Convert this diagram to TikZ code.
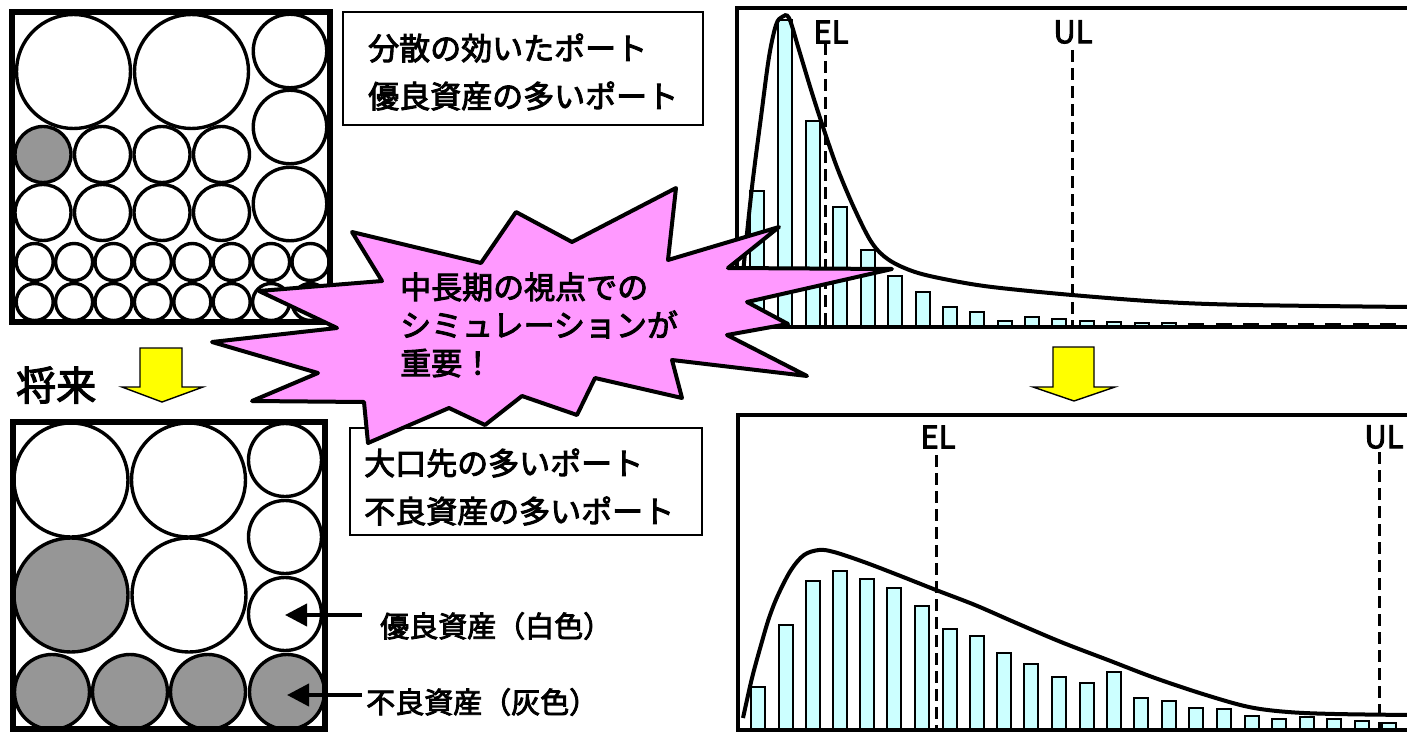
\documentclass[tikz,border=0pt]{standalone}
\usepackage{fontspec}
\setmainfont{Noto Sans CJK JP}[FakeBold=3]
\usepackage{tikz}
\usetikzlibrary{arrows.meta}
\definecolor{burstpink}{RGB}{255,153,255}
\definecolor{barcyan}{RGB}{204,255,255}
\definecolor{badgray}{RGB}{150,150,150}
\definecolor{arrowyellow}{RGB}{255,255,0}

\begin{document}
\begin{tikzpicture}[x=1pt,y=-1pt,
    ball/.style={circle,draw=black,line width=3.4pt,fill=white,inner sep=0pt,minimum size=#1},
    badball/.style={ball=#1,fill=badgray},
    portframe/.style={draw=black,line width=6pt},
    textframe/.style={draw=black,line width=2.2pt},
    histbar/.style={draw=black,line width=2.6pt,fill=barcyan},
    chartframe/.style={draw=black,line width=4pt},
    limitline/.style={line width=3pt,dash pattern=on 12pt off 6pt},
    lossline/.style={line width=4pt},
    blockarrow/.style={draw=black,line width=1.4pt,fill=arrowyellow},
    pointer/.style={line width=4pt,-{Triangle[length=22pt,width=22pt]}},
    burst/.style={draw=black,line width=4pt,fill=burstpink,line join=round},
    jptext/.style={font=\fontsize{31}{48}\selectfont,align=left,inner sep=0pt},
    limtext/.style={font=\fontsize{31}{36}\selectfont,inner sep=0pt}]
    \useasboundingbox (0,0) rectangle (1407,733);

    \foreach \x [count=\i] in {73.5,191.5}
        \node[ball=114pt] (tb\i) at (\x,71.5) {};
    \foreach \y [count=\i] in {51,127,204}
        \node[ball=73.5pt] (tr\i) at (290,\y) {};
    \node[badball=56pt] (tgray) at (43,154.5) {};
    \foreach \x [count=\i] in {102.5,162,221.5}
        \node[ball=56pt] (tm\i) at (\x,154.5) {};
    \foreach \x [count=\i] in {43,102.5,162,221.5}
        \node[ball=56pt] (tn\i) at (\x,212.5) {};
    \foreach \i in {0,...,7} {
        \node[ball=37pt] (ts\i) at (34.7+39.4*\i,262) {};
        \node[ball=37pt] (tt\i) at (34.7+39.4*\i,302) {};
    }
    \draw[portframe] (12,12) rectangle (330,322);

    \node[ball=114pt] (bb1) at (71,480) {};
    \node[ball=114pt] (bb2) at (188.5,480) {};
    \node[badball=114pt] (bb3) at (71,595) {};
    \node[ball=114pt] (bb4) at (189,595) {};
    \foreach \y [count=\i] in {460,537,614}
        \node[ball=73pt] (br\i) at (285,\y) {};
    \foreach \x [count=\i] in {52,130,208,287}
        \node[badball=75pt] (bg\i) at (\x,692) {};
    \draw[portframe] (13,422) rectangle (325,729);

    \draw[textframe] (343,12) rectangle (703,125);
    \node[jptext,anchor=west] (toptext) at (368,72) {分散の効いたポート\\優良資産の多いポート};
    \draw[textframe] (350,428) rectangle (702,535);
    \node[jptext,anchor=west] (bottext) at (364,487) {大口先の多いポート\\不良資産の多いポート};

    \node[jptext,font=\fontsize{40}{48}\selectfont,anchor=west] (future) at (16,385) {将来};
    \draw[blockarrow] (140,348) -- (182,348) -- (182,387) -- (203,387) -- (162,402) -- (122,387) -- (140,387) -- cycle;
    \draw[blockarrow] (1053,347) -- (1094,347) -- (1094,387) -- (1115,387) -- (1074,401) -- (1033,387) -- (1053,387) -- cycle;

    \node[jptext,font=\fontsize{29}{36}\selectfont,anchor=west] (goodlbl) at (380,626) {優良資産（白色）};
    \node[jptext,font=\fontsize{29}{36}\selectfont,anchor=west] (badlbl) at (366,702) {不良資産（灰色）};
    \coordinate (goodtail) at (362,615);
    \coordinate (badtail) at (362,695);
    \draw[pointer] (goodtail) -- (br3.center |- goodtail);
    \draw[pointer] (badtail) -- (bg4.center |- badtail);

    \foreach \x/\t in {750/191,778/20,806/121,833/207,861/250,888/276,916/292,943/307,
        970/312,998/321,1025/317,1052/319,1080/321,1107/322,1135/323,1162/323,
        1189/324,1217/324,1244/324,1272/324,1299/324,1326/324,1354/324,1381/324}
        \draw[histbar] (\x,\t) rectangle (\x+14,327);
    \draw[chartframe] (737,8) rectangle (1420,327);
    \node[limtext] (elone) at (831,32) {EL};
    \node[limtext] (ulone) at (1073,32) {UL};
    \draw[limitline] (825,43) -- (825,327);
    \draw[limitline] (1072,50) -- (1072,327);
    \draw[lossline] plot[smooth,tension=0.55] coordinates {(741,300) (744,263) (752,187) (761,117)
        (769,57) (776,25) (782,17) (789,18) (799,50) (812,93) (825,133) (838,170) (855,210)
        (872,243) (889,260) (915,272) (949,280) (992,287) (1072,295) (1164,302) (1249,305) (1410,307)};

    \foreach \x/\t in {751/687,779/625,806/581,833/571,860/579,887/588,915/606,943/629,
        970/636,997/653,1024/664,1052/677,1080/683,1107/672,1134/698,1162/701,
        1189/708,1217/709,1245/716,1272/719,1300/717,1327/719,1355/721,1382/723}
        \draw[histbar] (\x,\t) rectangle (\x+14,730);
    \draw[chartframe] (738,415) rectangle (1420,730);
    \node[limtext] (eltwo) at (938,437) {EL};
    \node[limtext] (ultwo) at (1384,437) {UL};
    \draw[limitline] (936,455) -- (936,730);
    \draw[limitline] (1379,452) -- (1379,730);
    \draw[lossline] plot[smooth,tension=0.55] coordinates {(743,718) (752,678) (761,645) (769,618)
        (778,595) (791,570) (804,555) (819,550) (834,552) (864,562) (898,575) (936,590)
        (975,605) (1014,622) (1061,642) (1108,660) (1155,678) (1206,695) (1249,707)
        (1288,712) (1335,714) (1410,715)};

    \draw[burst] (352,232) -- (481,263) -- (516,212) -- (572,242) -- (676,188) -- (668,260)
        -- (779,227) -- (728,268) -- (892,269) -- (747,302) -- (788,324) -- (727,335)
        -- (807,376) -- (672,360) -- (682,398) -- (595,378) -- (577,415) -- (522,396)
        -- (485,425) -- (449,408) -- (368,443) -- (364,402) -- (252,401) -- (318,373)
        -- (212,342) -- (337,328) -- (259,291) -- (382,281) -- cycle;
    \node[jptext,font=\fontsize{31}{38}\selectfont,anchor=west] (bursttext) at (400,325)
        {中長期の視点での\\シミュレーションが\\重要！};
\end{tikzpicture}
\end{document}
